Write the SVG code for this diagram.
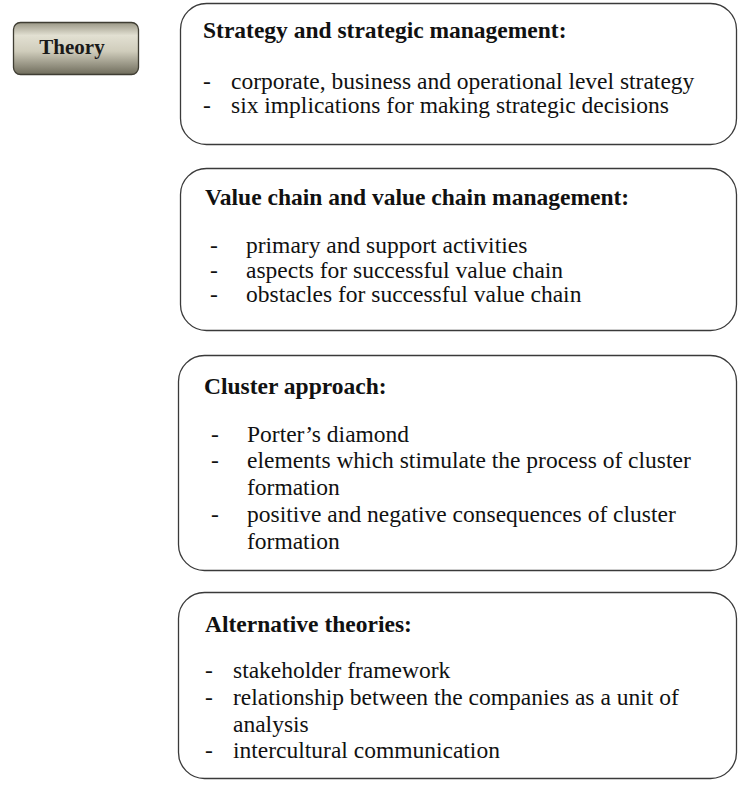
<svg xmlns="http://www.w3.org/2000/svg" width="739" height="790" viewBox="0 0 739 790">
  <style>
    .box { fill: #ffffff; stroke: #3a3a3a; stroke-width: 1.3; }
    .title { font-family: "Liberation Serif", "Times New Roman", serif; font-weight: bold; font-size: 23.5px; fill: #111; }
    .item { font-family: "Liberation Serif", "Times New Roman", serif; font-size: 23.5px; fill: #111; }
    .btn-text { font-family: "Liberation Serif", "Times New Roman", serif; font-weight: bold; font-size: 21px; fill: #1a1a1a; }
  </style>
  <defs>
    <linearGradient id="metal" x1="0" y1="0" x2="0" y2="1">
      <stop offset="0" stop-color="#9a9786"/>
      <stop offset="0.25" stop-color="#e2e0d2"/>
      <stop offset="0.55" stop-color="#d0cdbc"/>
      <stop offset="1" stop-color="#6f6c5c"/>
    </linearGradient>
  </defs>
  <rect width="739" height="790" fill="#ffffff"/>

  <!-- label button on the left -->
  <g id="theory">
    <rect x="13.5" y="22.5" width="125" height="52" rx="7" fill="url(#metal)" stroke="#3f3d33" stroke-width="1.3"/>
    <text class="btn-text" x="72" y="54" text-anchor="middle">Theory</text>
  </g>

  <g id="strategy">
    <rect class="box" x="180.5" y="3.5" width="556" height="141" rx="26"/>
    <text class="title" x="203" y="38">Strategy and strategic management:</text>
    <text class="item" x="203" y="89">-</text>
    <text class="item" x="231" y="89">corporate, business and operational level strategy</text>
    <text class="item" x="203" y="113">-</text>
    <text class="item" x="231" y="113">six implications for making strategic decisions</text>
  </g>

  <g id="value-chain">
    <rect class="box" x="180.5" y="168.5" width="556" height="162" rx="26"/>
    <text class="title" x="205" y="205">Value chain and value chain management:</text>
    <text class="item" x="210" y="253">-</text>
    <text class="item" x="246" y="253">primary and support activities</text>
    <text class="item" x="210" y="278">-</text>
    <text class="item" x="246" y="278">aspects for successful value chain</text>
    <text class="item" x="210" y="302">-</text>
    <text class="item" x="246" y="302">obstacles for successful value chain</text>
  </g>

  <g id="cluster">
    <rect class="box" x="178.5" y="355.5" width="558" height="215" rx="26"/>
    <text class="title" x="204" y="394">Cluster approach:</text>
    <text class="item" x="211" y="442">-</text>
    <text class="item" x="247" y="442">Porter’s diamond</text>
    <text class="item" x="211" y="468">-</text>
    <text class="item" x="247" y="468">elements which stimulate the process of cluster</text>
    <text class="item" x="247" y="495">formation</text>
    <text class="item" x="211" y="522">-</text>
    <text class="item" x="247" y="522">positive and negative consequences of cluster</text>
    <text class="item" x="247" y="549">formation</text>
  </g>

  <g id="alternative">
    <rect class="box" x="178.5" y="592.5" width="558" height="186" rx="26"/>
    <text class="title" x="205" y="632">Alternative theories:</text>
    <text class="item" x="205" y="678">-</text>
    <text class="item" x="233" y="678">stakeholder framework</text>
    <text class="item" x="205" y="705">-</text>
    <text class="item" x="233" y="705">relationship between the companies as a unit of</text>
    <text class="item" x="233" y="732">analysis</text>
    <text class="item" x="205" y="758">-</text>
    <text class="item" x="233" y="758">intercultural communication</text>
  </g>

  <!-- the boxes are not linked by any arrows -->
  <g id="connectors"></g>
</svg>
